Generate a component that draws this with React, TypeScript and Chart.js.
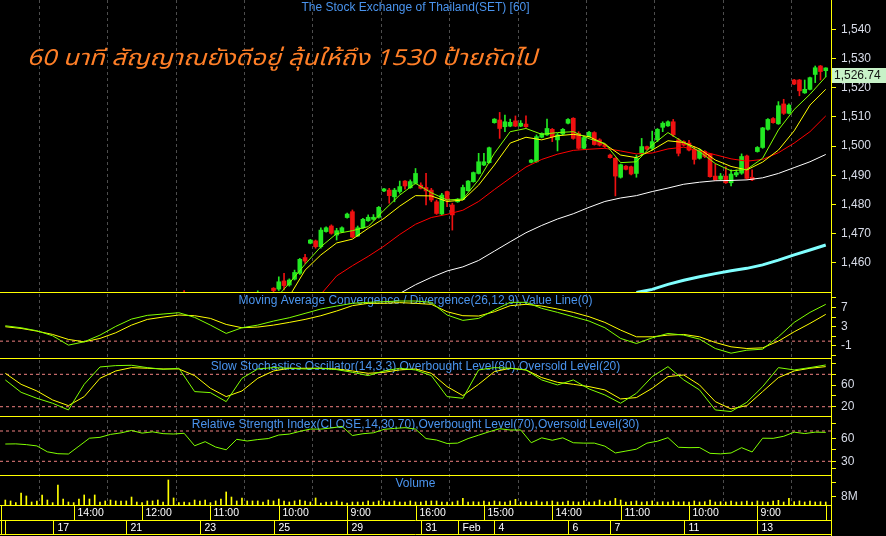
import React, { useEffect, useRef } from 'react';
import { Chart, registerables } from 'chart.js';

Chart.register(...registerables);

// ---------------- data ----------------
const chartTitle = 'The Stock Exchange of Thailand(SET) [60]';
const thaiCaption = '60 นาที สัญญาณยังดีอยู่ ลุ้นให้ถึง 1530 ป้ายถัดไป';
const panelTitles: [string, string][] = [
  ['yMacd', 'Moving Average Convergence / Divergence(26,12,9),Value Line(0)'],
  ['yStoch', 'Slow Stochastics Oscillator(14,3,3),Overbought Level(80),Oversold Level(20)'],
  ['yRsi', 'Relative Strength Index(CLOSE,14,30,70),Overbought Level(70),Oversold Level(30)'],
  ['yVol', 'Volume'],
];

// candles start at bar index 34
const candleStart = 34;
const opens = [
  1448, null, null, null, null, null, null, null, null, null, null, null, null, null, 1447, null, null,
  1451.3, 1451.0, 1453.8, 1452.4, 1454.4, 1456.4, 1461.8, 1466.7, 1467.5, 1465.5,
  1470.7, 1472.6, 1469.5, 1470.6, 1475.5, 1477.5, 1469.2, 1472.0, 1474.4, 1474.9,
  1475.6, 1484.6, 1484.9, 1482.6, 1484.4, 1488.0, 1485.7, 1487.2, 1486.6, 1485.8,
  1484.9, 1480.9, 1476.7, 1484.4, 1479.8, 1480.9, 1481.7, 1484.7, 1487.8, 1490.6,
  1493.5, 1494.3, 1508.0, 1508.9, 1506.6, 1506.8, 1508.6, 1506.8, 1507.5, 1494.4,
  1494.6, 1503.0, 1503.8, 1505.7, 1502.1, 1504.1, 1507.8, 1509.5, 1504.3, 1499.2,
  1503.2, 1504.6, 1502.1, 1500.5, 1496.9, 1495.8, 1489.3, 1493.1, 1492.9, 1490.6,
  1497.3, 1499.8, 1499.2, 1502.1, 1506.4, 1506.9, 1508.3, 1502.1, 1501.5, 1501.0,
  1498.9, 1495.8, 1498.1, 1497.3, 1489.7, 1488.6, 1489.7, 1487.4, 1490.1, 1490.7,
  1496.6, 1489.3, 1498.1, 1499.5, 1505.7, 1509.4, 1507.6, 1514.4, 1511.2, 1522.6,
  1522.6, 1518.2, 1519.4, 1524.5, 1527.4, 1525.8,
];
const highs = [
  1450.5, null, null, null, null, null, null, null, null, null, null, null, null, null, 1450.4, null, null,
  1451.5, 1455.2, 1456.4, 1454.5, 1457.5, 1461.5, 1462.9, 1468.0, 1467.8, 1472.0,
  1472.3, 1473.0, 1471.8, 1472.3, 1477.0, 1478.1, 1472.6, 1475.2, 1476.4, 1476.5,
  1479.3, 1485.5, 1485.5, 1485.5, 1488.0, 1488.2, 1488.4, 1492.3, 1487.4, 1490.6,
  1485.5, 1481.5, 1483.8, 1484.6, 1480.4, 1482.0, 1486.6, 1488.2, 1491.1, 1497.5,
  1497.5, 1499.6, 1509.4, 1511.5, 1510.6, 1509.2, 1510.3, 1508.7, 1510.3, 1495.4,
  1503.8, 1504.5, 1509.2, 1506.0, 1504.3, 1506.0, 1509.4, 1509.7, 1504.9, 1503.2,
  1505.0, 1504.9, 1502.5, 1500.8, 1497.2, 1496.0, 1493.8, 1493.3, 1493.1, 1496.9,
  1502.6, 1500.0, 1505.1, 1506.0, 1508.3, 1508.6, 1509.1, 1502.6, 1501.8, 1501.9,
  1499.8, 1499.0, 1498.4, 1497.5, 1493.8, 1490.6, 1492.9, 1491.8, 1491.8, 1497.3,
  1496.9, 1491.8, 1499.8, 1506.4, 1509.4, 1509.7, 1515.2, 1516.0, 1514.4, 1522.8,
  1522.8, 1522.6, 1523.6, 1527.4, 1527.6, 1526.8,
];
const lows = [
  1444, null, null, null, null, null, null, null, null, null, null, null, null, null, 1446, null, null,
  1448.5, 1450.5, 1450.7, 1452.0, 1454.1, 1456.0, 1459.8, 1466.5, 1465.0, 1465.0,
  1470.5, 1469.8, 1467.8, 1470.3, 1475.3, 1468.6, 1469.0, 1471.8, 1474.2, 1474.6,
  1475.3, 1484.4, 1480.4, 1480.9, 1483.8, 1485.2, 1485.5, 1487.0, 1485.3, 1479.8,
  1480.9, 1476.6, 1476.4, 1479.2, 1471.2, 1480.7, 1481.5, 1484.5, 1487.6, 1490.4,
  1493.3, 1494.1, 1507.8, 1502.6, 1504.9, 1506.6, 1506.6, 1506.6, 1506.4, 1494.2,
  1494.4, 1502.8, 1503.6, 1501.5, 1498.3, 1503.8, 1507.6, 1502.3, 1498.9, 1499.0,
  1503.0, 1500.3, 1500.0, 1499.5, 1495.8, 1482.9, 1489.0, 1491.8, 1490.1, 1489.3,
  1496.9, 1498.7, 1498.6, 1501.5, 1504.9, 1506.7, 1503.2, 1496.6, 1500.0, 1498.3,
  1493.8, 1495.5, 1496.0, 1489.3, 1488.2, 1488.4, 1487.2, 1486.3, 1489.5, 1490.3,
  1488.6, 1488.1, 1497.9, 1499.2, 1505.4, 1507.8, 1507.4, 1510.8, 1511.0, 1521.0,
  1517.2, 1518.0, 1519.2, 1521.7, 1522.6, 1523.7,
];
const closes = [
  1446, null, null, null, null, null, null, null, null, null, null, null, null, null, 1449, null, null,
  1450.5, 1453.5, 1452.2, 1454.1, 1456.7, 1461.2, 1460.6, 1467.8, 1465.5, 1471.2,
  1472.0, 1470.1, 1471.0, 1472.0, 1476.7, 1468.8, 1472.0, 1474.9, 1475.6, 1475.6,
  1479.0, 1485.3, 1483.0, 1484.9, 1486.1, 1486.3, 1487.8, 1490.6, 1485.5, 1484.6,
  1481.5, 1476.9, 1483.2, 1481.5, 1476.4, 1481.8, 1485.8, 1488.0, 1490.9, 1494.6,
  1494.6, 1499.4, 1509.2, 1506.0, 1508.3, 1508.1, 1506.8, 1507.8, 1506.6, 1495.2,
  1503.2, 1504.3, 1506.0, 1503.2, 1503.8, 1505.7, 1509.1, 1502.6, 1499.2, 1502.9,
  1504.7, 1500.5, 1500.3, 1499.8, 1496.0, 1489.7, 1493.6, 1492.0, 1490.4, 1495.8,
  1499.8, 1498.9, 1501.5, 1505.7, 1507.8, 1508.3, 1503.8, 1497.5, 1500.3, 1498.6,
  1495.4, 1498.6, 1496.4, 1489.5, 1488.4, 1489.7, 1487.4, 1490.4, 1490.9, 1496.4,
  1488.9, 1488.4, 1499.5, 1506.2, 1509.1, 1508.0, 1513.8, 1511.2, 1514.0, 1521.2,
  1518.9, 1519.4, 1523.4, 1526.8, 1525.5, 1526.74,
];

// indicator lines, read every 3 bars (bar 0, 3, 6, ... 156)
const lineStep = 3;
const maFast = [
  null, null, null, null, null, null, null, null, null, null, null, null, null, null, null, null, null,
  1447, 1453, 1459.5, 1465.5, 1470.0, 1471.0, 1472.4, 1478.0, 1483.2, 1487.2, 1484.0, 1481.5, 1481.8,
  1488.4, 1497.5, 1504.9, 1506.0, 1504.0, 1504.6, 1504.9, 1502.5, 1500.9, 1494.3, 1494.6, 1500.3,
  1504.6, 1501.2, 1498.1, 1494.0, 1491.5, 1492.0, 1495.8, 1505.5, 1512.5, 1517.7, 1523.7,
];
const maMid = [
  null, null, null, null, null, null, null, null, null, null, null, null, null, null, null, null, null, null,
  1448.5, 1457.5, 1462.7, 1466.8, 1468.1, 1471.8, 1475.2, 1479.4, 1483.0, 1482.9, 1481.0, 1481.5,
  1486.6, 1493.5, 1501.0, 1503.0, 1502.1, 1503.5, 1504.0, 1503.2, 1500.6, 1496.9, 1496.0, 1498.6,
  1501.8, 1501.2, 1499.0, 1495.2, 1493.0, 1491.8, 1494.5, 1498.6, 1505.2, 1514.0, 1519.4,
];
const maSlow = [
  null, null, null, null, null, null, null, null, null, null, null, null, null, null, null, null, null, null, null, null,
  1449.2, 1455.5, 1459.0, 1462.2, 1465.7, 1469.7, 1473.2, 1475.5, 1476.6, 1478.0, 1481.0, 1485.1,
  1489.0, 1492.8, 1495.4, 1497.2, 1498.5, 1498.9, 1499.2, 1498.3, 1497.3, 1497.6, 1499.0, 1499.6,
  1498.3, 1497.0, 1495.6, 1494.8, 1495.4, 1497.7, 1501.0, 1504.9, 1510.3,
];
const maLong = [
  null, null, null, null, null, null, null, null, null, null, null, null, null, null, null, null, null,
  null, null, null, null, null, null, null, null,
  1449.5, 1452.5, 1455.0, 1457.2, 1458.6, 1460.8, 1464.0, 1467.2, 1470.3, 1472.8, 1475.0, 1476.8,
  1479.0, 1481.0, 1482.2, 1483.0, 1484.4, 1485.6, 1486.9, 1487.6, 1488.1, 1488.2, 1488.4, 1489.1,
  1490.6, 1492.6, 1494.6, 1497.1,
];
const maTrend = [
  null, null, null, null, null, null, null, null, null, null, null, null, null, null, null, null, null, null, null, null,
  null, null, null, null, null, null, null, null, null, null, null, null, null, null, null, null, null, null, null, null,
  1449.8, 1450.9, 1452.6, 1454.0, 1455.2, 1456.3, 1457.3, 1458.1, 1459.3, 1460.9, 1462.7, 1464.4, 1466.1,
];
const macdLine = [
  3.19, 2.78, 2.15, 1.11, -0.83, -0.14, 1.25, 3.06, 4.58, 5.35, 5.63, 5.9, 4.93, 3.33, 1.6, 2.78, 3.33,
  4.17, 4.86, 5.76, 6.67, 7.29, 7.85, 8.05, 8.19, 8.33, 8.33, 8.05, 5.42, 4.31, 4.72, 6.46, 8.05, 8.05,
  6.81, 5.97, 5.07, 4.17, 2.78, 0.56, -0.49, 0.69, 1.6, 1.25, 0.42, -1.53, -2.5, -1.88, -1.67, 0.9,
  3.89, 5.97, 7.64,
];
const macdSignal = [
  2.99, 2.64, 2.08, 1.39, 0.35, -0.14, 0.56, 1.74, 3.33, 4.51, 5.0, 5.42, 5.28, 4.72, 3.47, 2.78, 2.92,
  3.33, 3.89, 4.51, 5.28, 6.25, 7.36, 7.85, 7.85, 7.99, 7.85, 7.64, 6.11, 5.28, 5.21, 6.11, 7.36, 7.64,
  7.29, 6.67, 5.97, 5.07, 3.89, 2.29, 0.9, 0.9, 1.25, 1.39, 0.9, -0.28, -1.18, -1.53, -1.39, 0,
  1.94, 3.68, 5.56,
];
const stochK = [
  69.6, 46.7, 35.6, 26.4, 14.0, 61.5, 93.6, 96.1, 96.7, 92.4, 89.3, 91.2, 48.0, 46.1, 29.4, 72.6, 89.9,
  92.4, 91.2, 89.9, 91.2, 88.7, 83.7, 77.6, 86.2, 91.2, 88.1, 77.6, 38.7, 35.6, 88.1, 92.4, 91.2, 88.1,
  69.6, 60.3, 69.6, 52.9, 41.8, 26.4, 44.9, 75.7, 94.2, 69.6, 51.1, 14.0, 11.0, 28.2, 57.2, 92.4,
  88.1, 92.4, 97.3,
];
const stochD = [
  81.9, 61.5, 49.2, 32.5, 22.0, 38.7, 72.6, 86.2, 92.4, 91.2, 89.9, 89.9, 77.6, 54.1, 38.7, 49.2, 72.6,
  86.2, 91.2, 91.2, 91.2, 89.9, 86.2, 81.9, 83.7, 88.1, 89.9, 81.9, 57.2, 40.6, 61.5, 85.0, 91.2, 88.1,
  73.9, 65.2, 61.5, 57.2, 51.1, 34.4, 36.9, 54.1, 75.7, 78.8, 60.3, 29.4, 15.9, 22.0, 48.0, 73.9,
  86.2, 91.2, 94.2,
];
// RSI read every 2 bars (bar 0, 2, 4, ... 156)
const rsiStep = 2;
const rsi = [
  52.8, 53.0, 52.0, 50.3, 42.5, 40.0, 39.6, 50.0, 60.5, 61.6, 65.5, 67.5, 70.7, 67.2, 68.9, 66.5,
  66.0, 67.0, 50.5, 55.9, 48.8, 45.2, 59.0, 56.8, 58.7, 60.0, 64.7, 65.9, 69.5, 72.5, 72.5, 74.0,
  76.0, 64.0, 66.4, 67.6, 72.2, 73.4, 74.4, 72.5, 60.0, 58.1, 53.5, 54.0, 60.0, 64.5, 69.0, 73.0,
  71.3, 71.3, 54.5, 61.0, 57.8, 61.0, 54.5, 54.0, 54.0, 50.0, 41.0, 43.5, 46.0, 54.0, 56.5, 61.2,
  48.5, 48.0, 48.2, 40.5, 39.8, 41.0, 48.0, 42.3, 60.5, 60.3, 63.0, 68.5, 66.6, 68.5, 68.2,
];
// volume in millions, one per bar 0..156
const volumes = [
  4.8, 3.9, 2.3, 11.6, 8.7, 2.9, 3.9, 9.7, 4.8, 2.3, 19.3, 5.8, 2.9, 2.3, 5.8, 9.7, 5.8, 9.7, 2.9, 3.9,
  4.8, 3.9, 3.9, 3.9, 7.7, 2.9, 2.3, 3.9, 3.9, 4.8, 2.9, 24.2, 6.8, 2.3, 2.9, 2.3, 4.8, 3.9, 4.8, 2.3,
  3.9, 5.8, 12.6, 7.7, 3.9, 6.8, 3.9, 3.9, 3.9, 2.9, 4.8, 3.9, 5.8, 3.9, 2.9, 3.9, 4.8, 3.9, 2.9, 6.8,
  1.9, 2.9, 2.9, 3.9, 2.9, 1.9, 2.9, 2.9, 2.9, 3.9, 2.9, 3.9, 3.9, 2.9, 3.9, 2.9, 2.9, 3.9, 2.9, 2.9,
  3.9, 3.9, 3.9, 2.9, 2.9, 2.9, 3.9, 6.4, 2.9, 3.2, 2.9, 3.9, 2.9, 3.9, 3.2, 2.9, 3.9, 5.5, 2.9, 3.2,
  2.9, 3.9, 2.9, 3.2, 3.9, 2.9, 2.9, 3.9, 3.2, 2.9, 3.9, 2.9, 3.2, 4.8, 2.9, 3.9, 6.4, 4.8, 2.9, 3.2,
  3.9, 2.9, 3.2, 3.9, 2.9, 3.2, 2.9, 3.9, 2.9, 3.2, 2.9, 3.9, 2.9, 3.2, 4.8, 2.9, 3.2, 2.9, 3.9, 2.9,
  3.2, 3.9, 2.9, 3.9, 3.2, 2.9, 3.9, 4.5, 2.9, 6.4, 3.2, 3.9, 2.9, 3.9, 2.9, 3.2, 2.9,
];

const macdLevels = [0];
const stochLevels = [80, 20];
const rsiLevels = [70, 30];

const timeTicks = [13, 26, 39, 52, 65, 78, 91, 104, 117, 130, 143, 156];
const timeLabels = ['14:00', '12:00', '11:00', '10:00', '9:00', '16:00', '15:00', '14:00', '11:00', '10:00', '9:00', ''];
const dateTicks = [0, 9, 23, 37, 51, 65, 79, 86, 93, 107, 115, 129, 143];
const dateLabels = ['', '17', '21', '23', '25', '29', '31', 'Feb', '4', '6', '7', '11', '13'];

const priceTicks = [1460, 1470, 1480, 1490, 1500, 1510, 1520, 1530, 1540];
const macdTicks = [9, 7, 5, 3, 1, -1, -3];
const macdLabeled = [7, 3, -1];
const stochTicks = [100, 80, 60, 40, 20];
const stochLabeled = [60, 20];
const rsiTicks = [80, 60, 45, 30, 20];
const rsiLabeled = [60, 30];
const volTicks = [22, 8];
const volLabeled = [8];

// ---------------- styling ----------------
const FONT = '"Liberation Sans", Arial, sans-serif';
const GREEN = '#22e822';
const RED = '#ee1111';
const YELLOW = '#ffff00';
const LIME = '#80ff00';
const BLUE = '#4a94ee';
const AXIS_TEXT = '#d8dce8';
const PINK = '#f08080';

const X_MIN = -1.01;
const X_MAX = 157.0;
const CAPTION_WIDTH = 510;

function App() {
  const ref = useRef<HTMLCanvasElement | null>(null);

  useEffect(() => {
    document.body.style.margin = '0';
    document.body.style.background = '#000';

    const bodies: any[] = [];
    const wicks: any[] = [];
    const candleColors: string[] = [];
    opens.forEach((o, k) => {
      const c = closes[k];
      if (o == null || c == null) return;
      const x = candleStart + k;
      bodies.push({ x, y: [o, c] });
      wicks.push({ x, y: [lows[k], highs[k]] });
      candleColors.push(c >= o ? GREEN : RED);
    });

    const pts = (vals: (number | null)[], step = lineStep) => vals.map((v, k) => ({ x: k * step, y: v }));
    const lvl = (v: number) => [{ x: X_MIN, y: v }, { x: X_MAX, y: v }];

    const line = (data: any, color: string, yAxisID: string, width = 1, order = 0) => ({
      type: 'line', data, borderColor: color, borderWidth: width, pointRadius: 0,
      yAxisID, xAxisID: 'x', clip: 0, order, tension: 0, spanGaps: false,
    });
    const level = (v: number, yAxisID: string) => ({
      ...line(lvl(v), PINK, yAxisID, 1, 5), borderDash: [3, 3],
    });

    const datasets: any[] = [
      line(pts(maFast), LIME, 'y', 1, 0),
      line(pts(maMid), YELLOW, 'y', 1, 0),
      line(pts(maSlow), '#ff0000', 'y', 1, 0),
      line(pts(maLong), '#ffffff', 'y', 1, 0),
      line(pts(maTrend), '#80ffff', 'y', 3, 0),
      {
        type: 'bar', data: bodies, backgroundColor: candleColors, barThickness: 4,
        grouped: false, yAxisID: 'y', xAxisID: 'x', clip: 0, order: 1, borderWidth: 0,
      },
      {
        type: 'bar', data: wicks, backgroundColor: candleColors, barThickness: 1,
        grouped: false, yAxisID: 'y', xAxisID: 'x', clip: 0, order: 2, borderWidth: 0,
      },
      line(pts(macdLine), LIME, 'yMacd'),
      line(pts(macdSignal), YELLOW, 'yMacd'),
      ...macdLevels.map((v) => level(v, 'yMacd')),
      line(pts(stochK), LIME, 'yStoch'),
      line(pts(stochD), YELLOW, 'yStoch'),
      ...stochLevels.map((v) => level(v, 'yStoch')),
      line(pts(rsi, rsiStep), LIME, 'yRsi'),
      ...rsiLevels.map((v) => level(v, 'yRsi')),
      {
        type: 'bar', data: volumes.map((v, k) => ({ x: k, y: v })), backgroundColor: YELLOW,
        barThickness: 1, grouped: false, yAxisID: 'yVol', xAxisID: 'x', clip: 0, order: 1, borderWidth: 0,
      },
    ];

    const yAxis = (weight: number, min: number, max: number, ticks: number[], fmt: (v: number) => string) => ({
      type: 'linear', position: 'right', stack: 'panels', stackWeight: weight, min, max, offset: false,
      grid: { drawOnChartArea: false, drawTicks: true, tickLength: 5, color: YELLOW, lineWidth: 1 },
      border: { display: true, color: YELLOW, width: 1 },
      ticks: { color: AXIS_TEXT, font: { size: 12, family: FONT }, padding: 5, autoSkip: false, callback: fmt },
      afterBuildTicks: (s: any) => { s.ticks = ticks.map((value) => ({ value })); },
      afterFit: (s: any) => {
        s.width = 55;
        s.paddingTop = 0;
        s.paddingBottom = 0;
      },
    });

    const overlay = {
      id: 'overlay',
      beforeDraw(chart: any) {
        const { ctx, width, height } = chart;
        ctx.save();
        ctx.fillStyle = '#000';
        ctx.fillRect(0, 0, width, height);
        ctx.restore();
      },
      beforeDatasetsDraw(chart: any) {
        const { ctx, chartArea, scales } = chart;
        const cx = (chartArea.left + chartArea.right) / 2;
        ctx.save();
        ctx.textAlign = 'center';
        ctx.textBaseline = 'middle';
        ctx.font = `12px ${FONT}`;
        ctx.fillStyle = BLUE;
        ctx.fillText(chartTitle, cx, scales.y.top + 8);
        panelTitles.forEach(([id, text]) => ctx.fillText(text, cx, scales[id].top + 8.5));
        ctx.textAlign = 'left';
        ctx.textBaseline = 'alphabetic';
        ctx.font = 'italic 22px "Noto Sans Thai", "Noto Serif Thai", Loma, Garuda, "Tlwg Typo", "DejaVu Sans", sans-serif';
        ctx.fillStyle = '#ff7f27';
        const w = ctx.measureText(thaiCaption).width;
        ctx.translate(27, 65);
        ctx.scale(CAPTION_WIDTH / w, 1);
        ctx.fillText(thaiCaption, 0, 0);
        ctx.restore();
      },
      afterDraw(chart: any) {
        const { ctx, chartArea, scales } = chart;
        const L = chartArea.left;
        const R = chartArea.right;
        const xs = scales.x;
        ctx.save();
        ctx.strokeStyle = YELLOW;
        ctx.lineWidth = 1;
        const hl = (y: number, x0: number, x1: number) => {
          ctx.beginPath(); ctx.moveTo(x0, y); ctx.lineTo(x1, y); ctx.stroke();
        };
        const vl = (x: number, y0: number, y1: number) => {
          ctx.beginPath(); ctx.moveTo(x, y0); ctx.lineTo(x, y1); ctx.stroke();
        };
        ['y', 'yMacd', 'yStoch', 'yRsi', 'yVol'].forEach((id) => {
          hl(Math.round(scales[id].bottom) + 0.5, L, R + 1);
        });
        const rowTop = Math.round(chartArea.bottom);
        const rowMid = rowTop + 15;
        const rowBot = rowTop + 29;
        hl(rowMid + 0.5, L, R);
        hl(rowBot + 0.5, L, R);
        vl(Math.round(R) + 0.5, rowTop, chart.height);
        vl(1.5, rowTop, rowBot + 1);

        ctx.fillStyle = '#ffffff';
        ctx.font = `10.5px ${FONT}`;
        ctx.textAlign = 'left';
        ctx.textBaseline = 'middle';
        timeTicks.forEach((t, k) => {
          const x = Math.round(xs.getPixelForValue(t)) + 0.5;
          vl(x, rowTop, rowMid + 1);
          if (timeLabels[k]) ctx.fillText(timeLabels[k], x + 3, rowTop + 8);
        });
        dateTicks.forEach((t, k) => {
          const x = Math.round(xs.getPixelForValue(t)) + 0.5;
          vl(x, rowMid, rowBot + 1);
          if (dateLabels[k]) ctx.fillText(dateLabels[k], x + 4, rowMid + 8);
        });

        // last price tag
        const last = closes[closes.length - 1] as number;
        const py = Math.round(scales.y.getPixelForValue(last));
        ctx.fillStyle = '#c8f2c8';
        ctx.fillRect(Math.round(R) + 1, py, chart.width - Math.round(R) - 1, 15);
        ctx.fillStyle = '#111111';
        ctx.font = `12px ${FONT}`;
        ctx.fillText(last.toLocaleString('en-US', { minimumFractionDigits: 2 }), Math.round(R) + 3, py + 8);
        ctx.restore();
      },
    };

    const chart = new Chart(ref.current as HTMLCanvasElement, {
      type: 'line',
      data: { datasets },
      options: {
        animation: false,
        responsive: false,
        maintainAspectRatio: false,
        devicePixelRatio: 1,
        events: [],
        layout: { padding: { left: 0, right: 0, top: 0, bottom: 31 } },
        plugins: { legend: { display: false }, tooltip: { enabled: false }, title: { display: false } },
        scales: {
          x: {
            type: 'linear', min: X_MIN, max: X_MAX, offset: false, position: 'bottom',
            ticks: { display: false },
            grid: { color: '#4d4d4d', lineWidth: 1, drawTicks: false, drawOnChartArea: true },
            border: { display: false, dash: [3, 3] },
            afterBuildTicks: (s: any) => { s.ticks = timeTicks.map((value) => ({ value })); },
            afterFit: (s: any) => {
              s.height = 0;
              s.paddingLeft = 0;
              s.paddingRight = 0;
            },
          },
          y: yAxis(292, 1450, 1550, priceTicks, (v: number) => Number(v).toLocaleString('en-US')),
          yMacd: yAxis(66, -3.5, 10.2, macdTicks, (v: number) => (macdLabeled.includes(v) ? String(v) : '')),
          yStoch: yAxis(58, 2.8, 110.2, stochTicks, (v: number) => (stochLabeled.includes(v) ? String(v) : '')),
          yRsi: yAxis(59, 11.9, 89.8, rsiTicks, (v: number) => (rsiLabeled.includes(v) ? String(v) : '')),
          yVol: yAxis(30, 0, 29, volTicks, (v: number) => (volLabeled.includes(v) ? `${v}M` : '')),
        },
      } as any,
      plugins: [overlay],
    } as any);

    return () => chart.destroy();
  }, []);

  return (
    <div style={{ position: 'absolute', left: 0, top: 0, width: 886, height: 536, background: '#000' }}>
      <canvas ref={ref} width={886} height={536} style={{ display: 'block' }} />
    </div>
  );
}

export default App;
